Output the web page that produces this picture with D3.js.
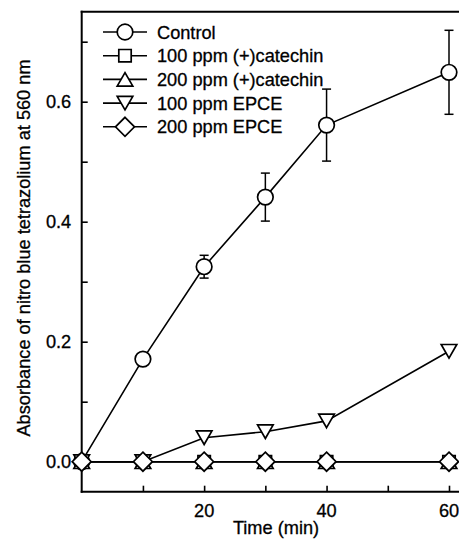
<!DOCTYPE html>
<html><head><meta charset="utf-8">
<script src="https://cdn.jsdelivr.net/npm/d3@7"></script>
<style>html,body{margin:0;padding:0;background:#fff}svg{display:block}text{font-family:"Liberation Sans",Arial,sans-serif;fill:#000;stroke:#000;stroke-width:0.3px}</style>
</head><body><svg id="c" width="459" height="542"></svg>
<script>
const times = [0, 10, 20, 30, 40, 60];
const seriesNames = ["Control", "100 ppm (+)catechin", "200 ppm (+)catechin", "100 ppm EPCE", "200 ppm EPCE"];
const seriesShapes = ["circle", "square", "triangle", "down", "diamond"];
const control = [0.0, 0.171, 0.325, 0.441, 0.561, 0.649];
const controlErr = [0, 0, 0.019, 0.04, 0.06, 0.07];
const catechin100 = [0, 0, 0, 0, 0, 0];
const catechin200 = [0, 0, 0, 0, 0, 0];
const epce100 = [0, 0, 0.04, 0.05, 0.068, 0.184];
const epce200 = [0, 0, 0, 0, 0, 0];
const yMajorTicks = [0, 0.2, 0.4, 0.6];
const yMinorTicks = [0.1, 0.3, 0.5, 0.7];
const xTicks = [10, 20, 30, 40, 50, 60];
const xLabeled = [20, 40, 60];

const values = [control, catechin100, catechin200, epce100, epce200];
const svg = d3.select("#c");
const W = 459;
const x = d3.scaleLinear().domain([0, 60]).range([81.7, 449]);
const y = d3.scaleLinear().domain([0, 0.7]).range([461.7, 41.7]);
const yBottom = y(-0.05), yTop = y(0.75);
const fs = 18.2;

function shapePath(type) {
  switch (type) {
    case "circle": { const r = 7.8; return `M${-r},0A${r},${r} 0 1,0 ${r},0A${r},${r} 0 1,0 ${-r},0Z`; }
    case "square": { const s = 6.2; return `M${-s},${-s}H${s}V${s}H${-s}Z`; }
    case "triangle": { const w = 7.8, h = 6.8; return `M0,${-h}L${w},${h}L${-w},${h}Z`; }
    case "down": { const w = 7.8, h = 6.8; return `M0,${h}L${w},${-h}L${-w},${-h}Z`; }
    case "diamond": { const d = 9.5; return `M0,${-d}L${d},0L0,${d}L${-d},0Z`; }
  }
}

// axes
const gy = svg.append("g").attr("transform", `translate(${x(0)},0)`);
gy.call(d3.axisLeft(y).tickValues(yMajorTicks.concat(yMinorTicks)).tickSize(-6).tickPadding(0).tickFormat(""));
gy.select(".domain").remove();
gy.selectAll("line").attr("stroke", "#000").attr("stroke-width", 1.6);
gy.selectAll(".lbl").data(yMajorTicks).enter().append("text")
  .attr("x", -10.5).attr("y", d => y(d)).attr("dy", "0.36em")
  .attr("text-anchor", "end").attr("font-size", fs).text(d => d3.format(".1f")(d));

const gx = svg.append("g").attr("transform", `translate(0,${yBottom})`);
gx.call(d3.axisBottom(x).tickValues(xTicks).tickSize(-6).tickFormat(""));
gx.select(".domain").remove();
gx.selectAll("line").attr("stroke", "#000").attr("stroke-width", 1.6);
gx.selectAll(".lbl").data(xLabeled).enter().append("text")
  .attr("x", d => x(d)).attr("y", 25.5)
  .attr("text-anchor", "middle").attr("font-size", fs).text(d => d);

// frame
svg.append("line").attr("x1", x(0)).attr("x2", x(0)).attr("y1", yTop - 1).attr("y2", yBottom + 1).attr("stroke", "#000").attr("stroke-width", 2);
svg.append("line").attr("x1", x(0) - 1).attr("x2", W).attr("y1", yBottom).attr("y2", yBottom).attr("stroke", "#000").attr("stroke-width", 2);
svg.append("line").attr("x1", x(0) - 1).attr("x2", W).attr("y1", yTop).attr("y2", yTop).attr("stroke", "#000").attr("stroke-width", 2);

// titles
svg.append("text").attr("x", 276).attr("y", 534).attr("text-anchor", "middle").attr("font-size", fs).text("Time (min)");
svg.append("text").attr("transform", "translate(29.5,248) rotate(-90)").attr("text-anchor", "middle").attr("font-size", fs)
  .text("Absorbance of nitro blue tetrazolium at 560 nm");

// error bars for control
const eb = svg.append("g").attr("stroke", "#000").attr("stroke-width", 1.5);
times.forEach((t, i) => {
  const e = controlErr[i];
  if (!e) return;
  const cx = x(t), y1 = y(control[i] - e), y2 = y(control[i] + e);
  eb.append("line").attr("x1", cx).attr("x2", cx).attr("y1", y1).attr("y2", y2);
  eb.append("line").attr("x1", cx - 4.5).attr("x2", cx + 4.5).attr("y1", y1).attr("y2", y1);
  eb.append("line").attr("x1", cx - 4.5).attr("x2", cx + 4.5).attr("y1", y2).attr("y2", y2);
});

// series
const line = d3.line().x(d => x(d[0])).y(d => y(d[1]));
values.forEach((vals, si) => {
  const pts = times.map((t, i) => [t, vals[i]]);
  const g = svg.append("g");
  g.append("path").attr("d", line(pts)).attr("fill", "none").attr("stroke", "#000").attr("stroke-width", 1.6);
  g.selectAll("path.m").data(pts).enter().append("path").attr("class", "m")
    .attr("transform", d => `translate(${x(d[0])},${y(d[1])})`)
    .attr("d", shapePath(seriesShapes[si]))
    .attr("fill", "#fff").attr("stroke", "#000").attr("stroke-width", 1.7);
});

// legend
const lg = svg.append("g");
seriesNames.forEach((name, i) => {
  const ly = 32 + i * 23.7;
  lg.append("line").attr("x1", 103).attr("x2", 147).attr("y1", ly).attr("y2", ly).attr("stroke", "#000").attr("stroke-width", 1.6);
  lg.append("path").attr("transform", `translate(125,${ly})`).attr("d", shapePath(seriesShapes[i]))
    .attr("fill", "#fff").attr("stroke", "#000").attr("stroke-width", 1.7);
  lg.append("text").attr("x", 157).attr("y", ly).attr("dy", "0.36em").attr("font-size", fs).text(name);
});
</script></body></html>
